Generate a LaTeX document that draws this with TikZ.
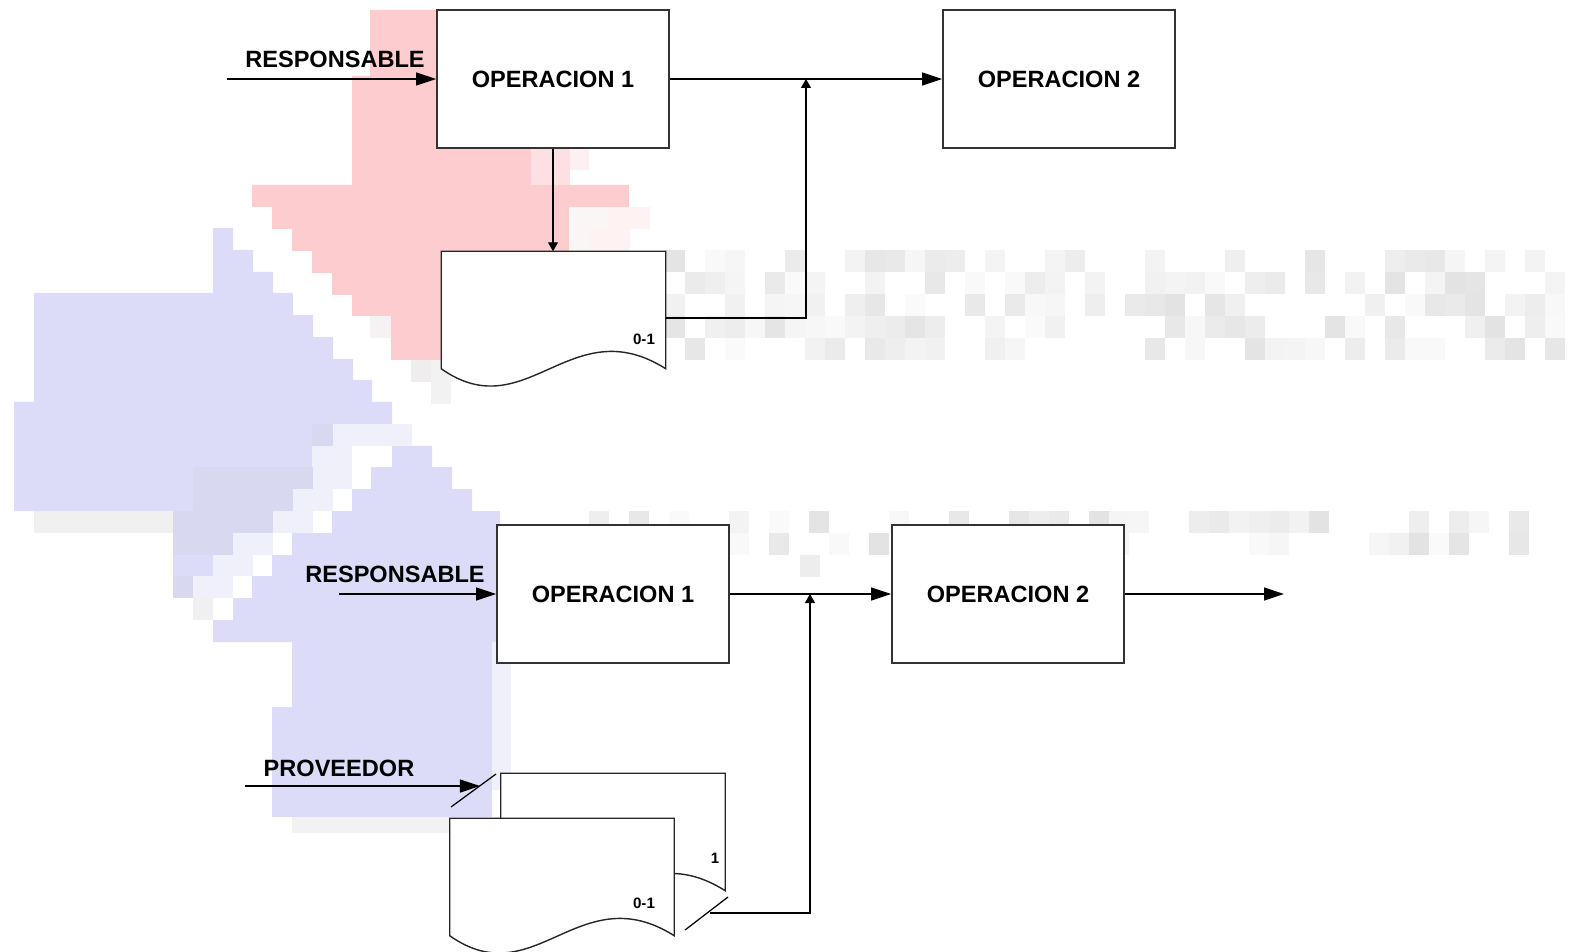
\documentclass[tikz,border=0pt]{standalone}
\usepackage{fontspec}
\setmainfont{Liberation Sans}
\usetikzlibrary{arrows.meta}
\definecolor{mosaicred}{RGB}{252,204,206}
\definecolor{mosaicblue}{RGB}{220,220,248}
\definecolor{mosaicmix}{RGB}{216,216,240}
\definecolor{mosaicpale}{RGB}{240,240,250}
\newcommand{\docshape}[1]{%
  \draw[doc] (#1.south west) -- (#1.north west) -- (#1.north east) -- (#1.south east)
    .. controls +(-95,-60) and +(85,60) .. (#1.south west) -- cycle;}

\begin{document}
\begin{tikzpicture}[x=0.01cm,y=-0.01cm]
  \tikzstyle{op}   = [draw=black!80,line width=0.45pt,fill=white,minimum width=2.32cm,minimum height=1.38cm,inner sep=0pt,font=\fontsize{6.7}{8}\selectfont\bfseries]
  \tikzstyle{docV} = [minimum width=2.23cm,minimum height=1.16cm,inner sep=0pt]
  \tikzstyle{doc}  = [draw=black!85,line width=0.4pt,fill=white]
  \tikzstyle{lab}  = [inner sep=0pt,font=\fontsize{6.7}{8}\selectfont\bfseries]
  \tikzstyle{tag}  = [inner sep=0pt,font=\fontsize{4.3}{5}\selectfont\bfseries]
  \tikzstyle{secL} = [line width=0.35pt,-{Triangle[length=0.2cm,width=0.13cm]}]
  \tikzstyle{secS} = [line width=0.3pt,-{Triangle[length=0.09cm,width=0.1cm]}]
  \tikzstyle{wire} = [line width=0.35pt]
  \useasboundingbox (0,0) rectangle (1585,952);
  % mosaic in the background
  \fill[mosaicred] (370,10) -- (480,10) -- (480,148) -- (531,148) -- (531,185) -- (629,185)
    -- (629,207) -- (569,207) -- (569,251) -- (450,251) -- (450,360) -- (391,360) -- (391,338)
    -- (370,338) -- (370,316) -- (352,316) -- (352,295) -- (332,295) -- (332,273) -- (312,273)
    -- (312,251) -- (292,251) -- (292,229) -- (272,229) -- (272,207) -- (252,207) -- (252,185)
    -- (352,185) -- (352,76) -- (370,76) -- cycle;
  \fill[mosaicred!60!white] (531,148) rectangle (570,185);
  \fill[mosaicred!30!white] (570,148) rectangle (589,170);
  \fill[mosaicred!80!black!10] (569,207) rectangle (609,251);
  \fill[mosaicred!25!white] (609,207) rectangle (650,229);
  \fill[mosaicred!25!white] (589,229) rectangle (630,251);
  \fill[mosaicred!70!black!12] (370,316) rectangle (391,338);
  \fill[mosaicred!50!black!12] (411,360) rectangle (431,382);
  \fill[black!5] (431,360) rectangle (451,404);
  \fill[mosaicblue] (213,228) -- (233,228) -- (233,250) -- (253,250) -- (253,272) -- (273,272)
    -- (273,293) -- (293,293) -- (293,315) -- (313,315) -- (313,337) -- (333,337) -- (333,359)
    -- (353,359) -- (353,380) -- (372,380) -- (372,402) -- (392,402) -- (392,424) -- (312,424)
    -- (312,467) -- (193,467) -- (193,511) -- (14,511) -- (14,402) -- (34,402) -- (34,293)
    -- (213,293) -- cycle;
  \fill[mosaicblue] (392,446) -- (432,446) -- (432,467) -- (452,467) -- (452,489) -- (472,489)
    -- (472,511) -- (500,511) -- (500,642) -- (492,642) -- (492,817) -- (272,817) -- (272,707)
    -- (292,707) -- (292,642) -- (213,642) -- (213,620) -- (233,620) -- (233,598) -- (252,598)
    -- (252,576) -- (272,576) -- (272,555) -- (292,555) -- (292,533) -- (332,533) -- (332,511)
    -- (352,511) -- (352,489) -- (371,489) -- (371,467) -- (392,467) -- cycle;
  \fill[mosaicmix] (312,424) rectangle (333,446);
  \fill[mosaicpale] (333,424) rectangle (412,446);
  \fill[mosaicpale] (312,446) rectangle (352,467);
  \fill[mosaicmix] (193,467) rectangle (313,511);
  \fill[mosaicpale] (313,467) rectangle (352,489);
  \fill[mosaicpale] (293,489) rectangle (333,511);
  \fill[black!6] (34,511) rectangle (173,533);
  \fill[mosaicmix] (173,511) rectangle (273,533);
  \fill[mosaicpale] (273,511) rectangle (313,533);
  \fill[mosaicmix] (173,533) rectangle (233,555);
  \fill[mosaicpale] (233,533) rectangle (273,555);
  \fill[mosaicblue] (173,555) rectangle (213,576);
  \fill[mosaicpale] (213,555) rectangle (253,576);
  \fill[mosaicmix] (173,576) rectangle (193,598);
  \fill[mosaicpale] (193,576) rectangle (233,598);
  \fill[black!6] (193,598) rectangle (213,620);
  \fill[mosaicpale] (492,642) rectangle (511,790);
  \fill[black!5] (292,817) rectangle (450,833);
  \pgfmathsetseed{11}
  \foreach \r in {0,...,4}{
    \foreach \c in {0,...,44}{
      \pgfmathsetmacro\g{rnd}
      \ifdim\g pt>0.45pt
        \pgfmathsetmacro\sh{2+9*rnd}
        \fill[black!\sh] (665+\c*20,250+\r*22) rectangle +(20,22);
      \fi
    }
  }
  \foreach \r in {0,1}{
    \foreach \c in {0,...,47}{
      \pgfmathsetmacro\g{rnd}
      \ifdim\g pt>0.5pt
        \pgfmathsetmacro\sh{2+9*rnd}
        \fill[black!\sh] (589+\c*20,511+\r*22) rectangle +(20,22);
      \fi
    }
  }
  \fill[black!7] (800,555) rectangle (820,577);
  % upper chart
  \path (553,79)    node[op](op1a) {OPERACION 1};
  \path (1059,79)   node[op](op2a) {OPERACION 2};
  \path (553.5,310) node[docV](doc1) {};
  \docshape{doc1}
  \path (644,339)   node[tag](n01a) {0-1};
  \path (335,59)    node[lab](respA) {RESPONSABLE};
  \coordinate (inA) at (227,79);
  \coordinate (j1)  at (806,79);
  \draw[secL] (inA) -- (op1a);
  \draw[secL] (op1a) -- (op2a);
  \draw[secS] (op1a.south) -- (op1a.south |- doc1.north);
  \draw[secS] ([yshift=-0.08cm]doc1.east) -| (j1);
  % lower chart
  \path (613,594)   node[op](op1b) {OPERACION 1};
  \path (1008,594)  node[op](op2b) {OPERACION 2};
  \path (613,832)   node[docV](doc2) {};
  \path (562,877)   node[docV](doc3) {};
  \docshape{doc2}
  \docshape{doc3}
  \path (715,858)   node[tag](n1b) {1};
  \path (644,903)   node[tag](n01b) {0-1};
  \path (395,574)   node[lab](respB) {RESPONSABLE};
  \path (339,768)   node[lab](prov) {PROVEEDOR};
  \coordinate (inB)  at (339,594);
  \coordinate (outB) at (1284,594);
  \coordinate (j2)   at (810,594);
  \coordinate (inC)  at (245,786);
  \coordinate (pC)   at (480,786);
  \coordinate (s1a)  at (451,807);
  \coordinate (s1b)  at (496,774);
  \coordinate (s2a)  at (685,930);
  \coordinate (s2b)  at (728,897);
  \coordinate (cB)   at (710,913);
  \draw[secL] (inB) -- (op1b);
  \draw[secL] (op1b) -- (op2b);
  \draw[secL] (op2b) -- (outB);
  \draw[secL] (inC) -- (pC);
  \draw[wire] (s1a) -- (s1b);
  \draw[wire] (s2a) -- (s2b);
  \draw[secS] (cB) -| (j2);
\end{tikzpicture}
\end{document}
